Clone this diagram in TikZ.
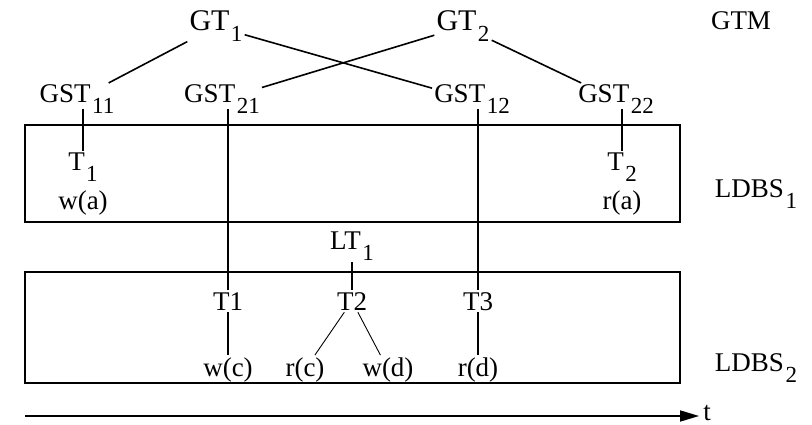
\documentclass[tikz,border=0pt]{standalone}
\usepackage{fontspec}
\setmainfont{Liberation Serif}
\usepackage{tikz}
\usetikzlibrary{arrows.meta,positioning,calc}

% lowered index, nearly full size as in the figure
\newcommand{\idx}[1]{\kern1.5pt\raisebox{-11pt}{\fontsize{23}{23}\selectfont #1}}

\begin{document}
\begin{tikzpicture}[x=1pt, y=-1pt, font=\fontsize{27}{27}\selectfont,
    txt/.style={anchor=base, inner sep=2pt},
    big/.style={txt, font=\fontsize{30}{30}\selectfont},
    link/.style={line width=1.6pt},
    thin link/.style={line width=0.9pt},
    frame/.style={line width=1.2pt}]
                \useasboundingbox (0,0) rectangle (812,425);

                % global level
                \node[big] (gt1) at (216,31) {GT\idx{1}};
                \node[big] (gt2) at (463,31) {GT\idx{2}};
                \node[txt] (gtm) at (741,30) {GTM};
                \node[txt] (gst11) at (77,103) {GST\idx{11}};
                \node[txt] (gst21) at (222,103) {GST\idx{21}};
                \node[txt] (gst12) at (472,103) {GST\idx{12}};
                \node[txt] (gst22) at (616,103) {GST\idx{22}};

                % LDBS1
                \draw[frame] (25,125) rectangle (680,222);
                \node[txt] (t1a) at (83,171) {T\idx{1}};
                \node[txt] (wa) at (83,210) {w(a)};
                \node[txt] (t2a) at (622,171) {T\idx{2}};
                \node[txt] (ra) at (622,210) {r(a)};
                \node[txt] (ldbs1) at (756,197) {LDBS\idx{1}};

                % LDBS2
                \node[txt] (lt1) at (352,249) {LT\idx{1}};
                \draw[frame] (25,272) rectangle (680,383);
                \node[txt] (t1b) at (228,310) {T1};
                \node[txt] (t2b) at (352,310) {T2};
                \node[txt] (t3b) at (478,310) {T3};
                \node[txt] (wc) at (228,376) {w(c)};
                \node[txt] (rc) at (305,376) {r(c)};
                \node[txt] (wd) at (388,376) {w(d)};
                \node[txt] (rd) at (478,376) {r(d)};
                \node[txt] (ldbs2) at (756,371) {LDBS\idx{2}};

                % time axis
                \coordinate (t0) at (25,416);
                \node[txt] (tlab) at (707,420) {t};

                \draw[link] (gt1) -- (gst11);
                \draw[link] (gt1) -- (gst12);
                \draw[link] (gt2) -- (gst21);
                \draw[link] (gt2) -- (gst22);
                \draw[link] ($(t1a.north |- gst11.base)+(0,6)$) -- (t1a.north);
                \draw[link] ($(t2a.north |- gst22.base)+(0,6)$) -- (t2a.north);
                \draw[link] ($(t1b.north |- gst21.base)+(0,6)$) -- (t1b.north);
                \draw[link] ($(t3b.north |- gst12.base)+(0,6)$) -- (t3b.north);
                \draw[link] (lt1.south) -- (t2b.north);
                \draw[link] (t1b.south) -- (wc.north);
                \draw[link] (t3b.south) -- (rd.north);
                \draw[thin link] (t2b) -- (rc);
                \draw[thin link] (t2b) -- (wd);
                \draw[link, -{Triangle[length=19pt,width=11pt]}] (t0) -- ([xshift=-2pt]t0 -| tlab.west);
            \end{tikzpicture}
\end{document}
